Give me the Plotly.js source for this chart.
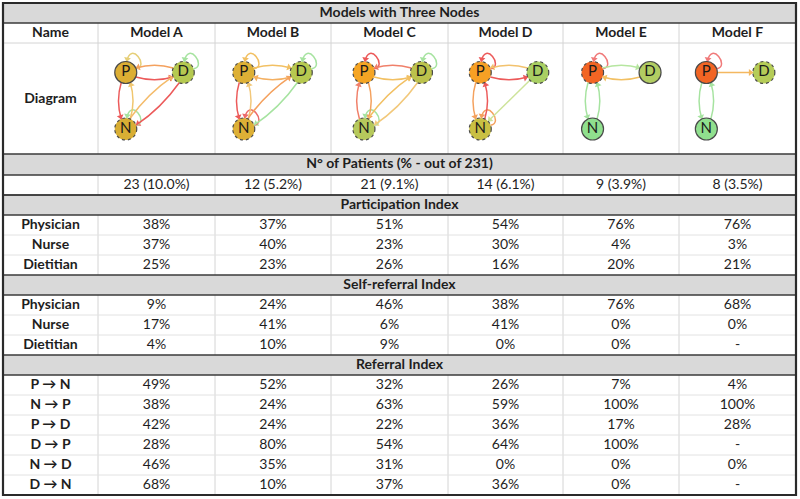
<!DOCTYPE html>
<html><head><meta charset="utf-8">
<script src="https://cdn.plot.ly/plotly-3.0.1.min.js"></script>
<style>html,body{margin:0;padding:0;background:#fff}</style>
</head><body><div id="chart" style="width:800px;height:499px"></div>
<script>
// ---------------- DATA ----------------
const tableTitle = 'Models with Three Nodes';
const nameHeader = 'Name';
const diagramLabel = 'Diagram';
const models = ['Model A','Model B','Model C','Model D','Model E','Model F'];
const patientsHeader = 'N° of Patients (% - out of 231)';
const patients = ['23 (10.0%)','12 (5.2%)','21 (9.1%)','14 (6.1%)','9 (3.9%)','8 (3.5%)'];
const roles = ['Physician','Nurse','Dietitian'];
const participationTitle = 'Participation Index';
const partPhysician = [38,37,51,54,76,76];
const partNurse     = [37,40,23,30,4,3];
const partDietitian = [25,23,26,16,20,21];
const selfTitle = 'Self-referral Index';
const selfPhysician = [9,24,46,38,76,68];
const selfNurse     = [17,41,6,41,0,0];
const selfDietitian = [4,10,9,0,0,null];
const referralTitle = 'Referral Index';
const referralLabels = ['P → N','N → P','P → D','D → P','N → D','D → N'];
const refPN = [49,52,32,26,7,4];
const refNP = [38,24,63,59,100,100];
const refPD = [42,24,22,36,17,28];
const refDP = [28,80,54,64,100,null];
const refND = [46,35,31,0,0,0];
const refDN = [68,10,37,36,0,null];

// ---------------- STYLE ----------------
const FONT = 'Lato, "Liberation Sans", sans-serif';
const TXT = '#1e1e1e';
const GRAY_FILL = '#d9d9d9';
const DARK = '#3a3a3a';
const LIGHT = '#d4d4d4';
const colX = [3, 98, 215, 331, 448, 563, 679, 796];
const nodeShift = [-2, -0.5, 3.2, 3.5, 0.3, -2.4];
const nodeFill = [
  {P:'#dcae34',D:'#b5c951',N:'#d8ae34'},
  {P:'#ddb036',D:'#b7c950',N:'#ddb036'},
  {P:'#f5a524',D:'#bcc24c',N:'#b6c95c'},
  {P:'#f7a024',D:'#a9cf63',N:'#c9c043'},
  {P:'#f26524',D:'#b2cd62',N:'#90e08e'},
  {P:'#f26524',D:'#b5cc58',N:'#90e08e'}
];
const nodeDash = [
  {P:false,D:true,N:true},{P:true,D:true,N:true},{P:true,D:true,N:true},
  {P:true,D:true,N:true},{P:true,D:false,N:false},{P:false,D:true,N:false}
];
const edgeColors = [
  {PP:'#e6cf78',DD:'#a6e3a0',NN:'#a6e3a0',DP:'#f4a15e',PD:'#ec5a5a',PN:'#ec5a5a',NP:'#f0c66e',ND:'#f4bb6a',DN:'#ec5a5a'},
  {PP:'#f2c063',DD:'#a6e3a0',NN:'#ec6a6a',PD:'#f2c063',DP:'#f4b062',PN:'#ec5a5a',NP:'#f2c87a',ND:'#f4a15e',DN:'#a6e3a0'},
  {PP:'#ec5a5a',DD:'#a6e3a0',NN:'#a6e3a0',DP:'#f0806a',PD:'#f2c063',NP:'#f0806a',PN:'#f4a15e',ND:'#f2c063',DN:'#f2c87a'},
  {PP:'#ec5a5a',NN:'#f4a15e',DP:'#f2c26e',PD:'#ec5a5a',PN:'#f4a15e',NP:'#ec5a5a',DN:'#cde39a'},
  {PP:'#f07a7a',PD:'#b6e6a0',DP:'#f2c063',PN:'#a6e3a0',NP:'#a6e3a0'},
  {PP:'#f07a7a',PD:'#f4b860',PN:'#a6e3a0',NP:'#a6e3a0'}
];
const pairSide = [
  {PD:1,PN:1,ND:-1},{PD:-1,PN:1,ND:-1},{PD:1,PN:-1,ND:-1},
  {PD:1,PN:1,ND:-1},{PD:-1,PN:1,ND:-1},{PD:1,PN:1,ND:-1}
];

// ---------------- BUILD ----------------
const pct = v => (v === null ? '-' : v + '%');
const shapes = [];
const normT = {x:[],y:[],text:[]};
const boldT = {x:[],y:[],text:[]};
const colC = i => (colX[i] + colX[i+1]) / 2;
const W0 = colX[0], W1 = colX[colX.length-1];
const midX = (W0 + W1) / 2;

function hline(y, color, w){ shapes.push({type:'line',xref:'x',yref:'y',x0:W0,x1:W1,y0:y,y1:y,line:{color:color,width:w}}); }
function vlines(y0, y1){ for(let i=1;i<colX.length-1;i++) shapes.push({type:'line',xref:'x',yref:'y',x0:colX[i],x1:colX[i],y0:y0,y1:y1,line:{color:LIGHT,width:1},layer:'below'}); }
function grayBand(y0, y1, label){
  shapes.push({type:'rect',xref:'x',yref:'y',x0:W0,x1:W1,y0:y0,y1:y1,fillcolor:GRAY_FILL,line:{width:0},layer:'below'});
  boldT.x.push(midX); boldT.y.push((y0+y1)/2); boldT.text.push('<b>'+label+'</b>');
}

grayBand(3, 23, tableTitle);
boldT.x.push(colC(0)); boldT.y.push(33.5); boldT.text.push('<b>'+nameHeader+'</b>');
models.forEach((m,i)=>{ boldT.x.push(colC(i+1)); boldT.y.push(33.5); boldT.text.push('<b>'+m+'</b>'); });
boldT.x.push(colC(0)); boldT.y.push(99); boldT.text.push('<b>'+diagramLabel+'</b>');
vlines(23, 154);
hline(43, LIGHT, 1);
grayBand(154, 175, patientsHeader);
patients.forEach((p,i)=>{ normT.x.push(colC(i+1)); normT.y.push(185); normT.text.push(p); });
vlines(175, 195);
const darkLines = [23, 154, 175, 195];

const sections = [
  {title: participationTitle, labels: roles, values:[partPhysician, partNurse, partDietitian]},
  {title: selfTitle, labels: roles, values:[selfPhysician, selfNurse, selfDietitian]},
  {title: referralTitle, labels: referralLabels, values:[refPN, refNP, refPD, refDP, refND, refDN]}
];
let y = 195;
sections.forEach(sec=>{
  grayBand(y, y+20, sec.title);
  darkLines.push(y, y+20);
  y += 20;
  const yStart = y;
  sec.labels.forEach((lab, r)=>{
    const yc = y + 10;
    boldT.x.push(colC(0)); boldT.y.push(yc); boldT.text.push('<b>'+lab+'</b>');
    sec.values[r].forEach((v,i)=>{ normT.x.push(colC(i+1)); normT.y.push(yc); normT.text.push(pct(v)); });
    if (r > 0) hline(y, '#e2e2e2', 1);
    y += 20;
  });
  vlines(yStart, y);
});
darkLines.forEach(yy => hline(yy, DARK, 1.6));
shapes.push({type:'rect',xref:'x',yref:'y',x0:W0,x1:W1,y0:3,y1:y,line:{color:'#2a2a2a',width:2.2}});

// ---------------- DIAGRAMS ----------------
const R = 11;
const refByKey = {PN:refPN, NP:refNP, PD:refPD, DP:refDP, ND:refND, DN:refDN};
const selfByNode = {P:selfPhysician, N:selfNurse, D:selfDietitian};
const nodeTr = {x:[],y:[],text:[],color:[]};
const arrowTr = {x:[],y:[],angle:[],color:[]};
function addArrow(tip, dir, color){
  const L = Math.hypot(dir.x, dir.y);
  const ux = dir.x/L, uy = dir.y/L;
  arrowTr.x.push(tip.x - ux*2.5); arrowTr.y.push(tip.y - uy*2.5);
  arrowTr.angle.push(Math.atan2(ux, -uy)*180/Math.PI);
  arrowTr.color.push(color);
}
models.forEach((m, i)=>{
  const cx = colC(i+1) + nodeShift[i];
  const pos = {P:{x:cx-28.75,y:72.5}, D:{x:cx+28.75,y:72.5}, N:{x:cx-28.75,y:129}};
  ['P','D','N'].forEach(k=>{
    const v = selfByNode[k][i];
    if (v === null || v <= 0) return;
    const c = pos[k], col = edgeColors[i][k+k];
    const a = -20*Math.PI/180;
    const s = {x:c.x+R*Math.cos(a), y:c.y+R*Math.sin(a)};
    const e = {x:c.x+1, y:c.y-R};
    const c1 = {x:c.x+24, y:c.y-6}, c2 = {x:c.x+5, y:c.y-32};
    shapes.push({type:'path',xref:'x',yref:'y',path:`M ${s.x},${s.y} C ${c1.x},${c1.y} ${c2.x},${c2.y} ${e.x},${e.y}`,line:{color:col,width:1.5}});
    addArrow(e, {x:e.x-c2.x, y:e.y-c2.y}, col);
  });
  Object.keys(refByKey).forEach(key=>{
    const v = refByKey[key][i];
    if (v === null || v <= 0) return;
    const A = pos[key[0]], B = pos[key[1]];
    const rev = key[1]+key[0];
    const revV = refByKey[rev][i];
    const hasRev = revV !== null && revV > 0;
    let s = 0;
    if (hasRev) s = (pairSide[i][key] !== undefined) ? pairSide[i][key] : pairSide[i][rev];
    const col = edgeColors[i][key];
    const dx = B.x-A.x, dy = B.y-A.y, L = Math.hypot(dx,dy);
    const ux = dx/L, uy = dy/L, nx = -uy, ny = ux;
    if (s === 0) {
      const st = {x:A.x+ux*R, y:A.y+uy*R}, en = {x:B.x-ux*R, y:B.y-uy*R};
      shapes.push({type:'path',xref:'x',yref:'y',path:`M ${st.x},${st.y} L ${en.x},${en.y}`,line:{color:col,width:1.5}});
      addArrow(en, {x:ux,y:uy}, col);
    } else {
      const o = 4.5*s, al = Math.sqrt(R*R - o*o);
      const st = {x:A.x+ux*al+nx*o, y:A.y+uy*al+ny*o};
      const en = {x:B.x-ux*al+nx*o, y:B.y-uy*al+ny*o};
      const ct = {x:(A.x+B.x)/2+nx*10*s, y:(A.y+B.y)/2+ny*10*s};
      shapes.push({type:'path',xref:'x',yref:'y',path:`M ${st.x},${st.y} Q ${ct.x},${ct.y} ${en.x},${en.y}`,line:{color:col,width:1.5}});
      addArrow(en, {x:en.x-ct.x, y:en.y-ct.y}, col);
    }
  });
  ['P','D','N'].forEach(k=>{
    const c = pos[k];
    nodeTr.x.push(c.x); nodeTr.y.push(c.y); nodeTr.text.push(k); nodeTr.color.push(nodeFill[i][k]);
    shapes.push({type:'circle',xref:'x',yref:'y',x0:c.x-R,x1:c.x+R,y0:c.y-R,y1:c.y+R,
      line:{color:'#4a4a4a',width:1.2,dash: nodeDash[i][k] ? 'dot' : 'solid'}});
  });
});

const traces = [
  {type:'scatter',mode:'markers+text',x:nodeTr.x,y:nodeTr.y,text:nodeTr.text,textposition:'middle center',
   textfont:{family:FONT,size:15,color:'#1a1a1a'},marker:{size:22,color:nodeTr.color,line:{width:0}},hoverinfo:'skip'},
  {type:'scatter',mode:'markers',x:arrowTr.x,y:arrowTr.y,
   marker:{symbol:'triangle-up',size:6,color:arrowTr.color,angle:arrowTr.angle,line:{width:0}},hoverinfo:'skip'},
  {type:'scatter',mode:'text',x:normT.x,y:normT.y,text:normT.text,textposition:'middle center',
   textfont:{family:FONT,size:14,color:TXT},hoverinfo:'skip'},
  {type:'scatter',mode:'text',x:boldT.x,y:boldT.y,text:boldT.text,textposition:'middle center',
   textfont:{family:FONT,size:14,color:TXT},hoverinfo:'skip'}
];
const layout = {
  width:800, height:499, margin:{l:0,r:0,t:0,b:0}, showlegend:false,
  paper_bgcolor:'#ffffff', plot_bgcolor:'#ffffff',
  xaxis:{range:[0,800],visible:false,fixedrange:true},
  yaxis:{range:[499,0],visible:false,fixedrange:true},
  shapes:shapes, hovermode:false
};
Plotly.newPlot('chart', traces, layout, {staticPlot:true, displayModeBar:false});
</script></body></html>
